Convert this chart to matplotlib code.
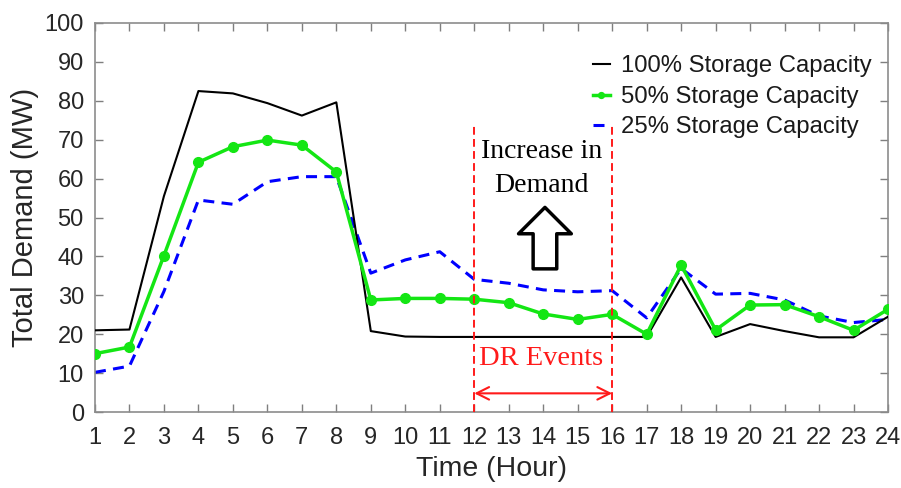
import matplotlib
matplotlib.use("Agg")
import matplotlib.pyplot as plt

hours = list(range(1, 25))
cap100 = [21.0, 21.2, 55.5, 82.5, 81.9, 79.4, 76.2, 79.6, 20.8, 19.4, 19.3, 19.3,
          19.3, 19.3, 19.3, 19.3, 19.3, 34.6, 19.3, 22.6, 20.8, 19.2, 19.2, 24.5]
cap50 = [15.0, 16.7, 40.2, 64.2, 68.2, 69.9, 68.6, 61.7, 28.8, 29.2, 29.2, 29.0,
         28.1, 25.2, 23.8, 25.1, 20.0, 37.8, 21.1, 27.5, 27.6, 24.5, 21.0, 26.4]
cap25 = [10.2, 11.8, 31.0, 54.5, 53.4, 59.2, 60.5, 60.5, 35.7, 39.1, 41.2, 34.1,
         33.1, 31.4, 30.9, 31.2, 24.2, 36.9, 30.3, 30.5, 28.8, 24.7, 23.0, 23.8]
labels = ["100% Storage Capacity", "50% Storage Capacity", "25% Storage Capacity"]
yticks = list(range(0, 101, 10))

DR_START, DR_END = 12, 16
DR_TOP = 73.8
DR_ARROW_Y = 4.8
DR_TEXT = (13.95, 13.8)
INC_TEXT = (13.95, 62.6)
ARROW_TIP = (14.05, 52.6)
ARROW_BASE = (14.05, 36.8)

sans = ["Liberation Sans", "DejaVu Sans"]
plt.rcParams["font.family"] = sans

fig = plt.figure(figsize=(9.01, 4.88), dpi=100)
ax = fig.add_axes([0.1054, 0.1557, 0.8802, 0.7972])

ax.plot(hours, cap100, color="black", lw=1.5, label=labels[0], zorder=3)
ax.plot(hours, cap50, color="#14e614", lw=2.5, marker="o", ms=7, label=labels[1], zorder=4)
ax.plot(hours, cap25, color="#0000ff", lw=2.2, linestyle=(0, (3.6, 2.4)), label=labels[2], zorder=2)

# DR window markers
for xv in (DR_START, DR_END):
    ax.plot([xv, xv], [0, DR_TOP], color="#ff1a1a", lw=1.4, linestyle=(0, (4, 2.2)), zorder=5)
ax.annotate("", xy=(DR_START, DR_ARROW_Y), xytext=(DR_END, DR_ARROW_Y),
            arrowprops=dict(arrowstyle="<->,head_length=0.9,head_width=0.45",
                            color="#ff1a1a", lw=1.5, shrinkA=0, shrinkB=0))
ax.text(DR_TEXT[0], DR_TEXT[1], "DR Events", color="#ff1a1a", ha="center", va="center",
        fontsize=20.5, family=["Liberation Serif", "DejaVu Serif"])
ax.text(INC_TEXT[0], INC_TEXT[1], "Increase in\nDemand", color="black", ha="center", va="center",
        fontsize=20, family=["Liberation Serif", "DejaVu Serif"], linespacing=1.5)
ax.annotate("", xy=ARROW_TIP, xytext=ARROW_BASE,
            arrowprops=dict(arrowstyle="simple,head_length=0.95,head_width=1.9,tail_width=0.85",
                            fc="white", ec="black", lw=2.5, shrinkA=0, shrinkB=0,
                            mutation_scale=20))

ax.set_xlim(1, 24)
ax.set_ylim(0, 100)
ax.set_xticks(hours)
ax.set_yticks(yticks)
ax.tick_params(direction="in", length=6, width=1, colors="#7f7f7f", top=True, right=True,
               labelsize=17, labelcolor="#262626")
ax.tick_params(axis="x", pad=11)
ax.tick_params(axis="y", pad=8)
for sp in ax.spines.values():
    sp.set_color("#8c8c8c")
    sp.set_linewidth(1.2)

ax.set_xlabel("Time (Hour)", fontsize=20.5, color="#262626", labelpad=5)
ax.set_ylabel("Total Demand (MW)", fontsize=21, color="#262626", labelpad=4)

leg = ax.legend(loc="upper right", bbox_to_anchor=(1.0, 0.96), frameon=False, fontsize=17.2,
                handlelength=0.7, handletextpad=0.45, labelspacing=0.36, borderaxespad=0.3,
                markerscale=0.6)
for t in leg.get_texts():
    t.set_color("#1a1a1a")

fig.savefig("out.png", dpi=100)
